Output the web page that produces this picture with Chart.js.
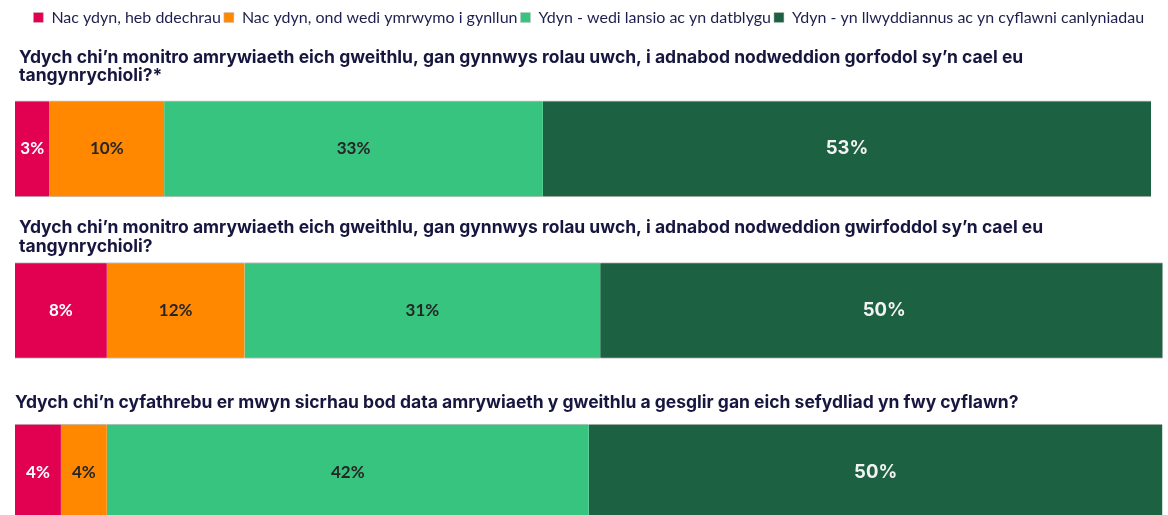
<!DOCTYPE html>
<html><head><meta charset="utf-8">
<script src="https://cdn.jsdelivr.net/npm/chart.js@4/dist/chart.umd.min.js"></script>
<style>html,body{margin:0;padding:0;background:#fff;overflow:hidden}
#wrap{position:relative;width:1168px;height:553px}</style></head>
<body><div id="wrap"><canvas id="c" width="1168" height="553"></canvas></div>
<script>
// ---- data ----
const questions = [
  ["Ydych chi’n monitro amrywiaeth eich gweithlu, gan gynnwys rolau uwch, i adnabod nodweddion gorfodol sy’n cael eu", "tangynrychioli?*"],
  ["Ydych chi’n monitro amrywiaeth eich gweithlu, gan gynnwys rolau uwch, i adnabod nodweddion gwirfoddol sy’n cael eu", "tangynrychioli?"],
  ["Ydych chi’n cyfathrebu er mwyn sicrhau bod data amrywiaeth y gweithlu a gesglir gan eich sefydliad yn fwy cyflawn?"]
];
const seriesNames = [
  "Nac ydyn, heb ddechrau",
  "Nac ydyn, ond wedi ymrwymo i gynllun",
  "Ydyn - wedi lansio ac yn datblygu",
  "Ydyn - yn llwyddiannus ac yn cyflawni canlyniadau"
];
const notStarted = [3, 8, 4];
const committed  = [10, 12, 4];
const launched   = [33, 31, 42];
const successful = [53, 49.5, 50];

// ---- styles ----
const colors = ["#E20050", "#FF8800", "#36C47F", "#1B6142"];
const labelColors = ["#ffffff", "#262626", "#262626", "#f2f2f2"];
const labelFonts = ["bold 17px Lato", "bold 17px Lato", "bold 17px Lato", "bold 18.5px Inter"];
const titleGaps = [25, 16, 21];
const titleX = [19, 19, 15];

const seriesValues = [notStarted, committed, launched, successful];

const legendHeight = {
  id: 'legendHeight',
  beforeInit(chart) {
    const fit = chart.legend.fit;
    chart.legend.fit = function () { fit.call(this); this.height = 61.5; };
  }
};

const titlesPlugin = {
  id: 'questionTitles',
  afterDraw(chart) {
    const ctx = chart.ctx, ys = chart.scales.y;
    const half = 48, lh = 18.5;
    ctx.save();
    ctx.font = "bold 17.5px Inter";
    ctx.fillStyle = "#16163f";
    ctx.textBaseline = "middle";
    ctx.textAlign = "left";
    questions.forEach((lines, j) => {
      const top = ys.getPixelForValue(j) - half;
      const lastY = top - titleGaps[j];
      lines.forEach((t, k) => {
        ctx.fillText(t, titleX[j], lastY - (lines.length - 1 - k) * lh);
      });
    });
    ctx.restore();
  }
};

const segLabels = {
  id: 'segLabels',
  afterDatasetsDraw(chart) {
    const ctx = chart.ctx;
    ctx.save();
    ctx.textAlign = "center";
    ctx.textBaseline = "middle";
    chart.data.datasets.forEach((ds, i) => {
      const meta = chart.getDatasetMeta(i);
      meta.data.forEach((bar, j) => {
        const v = ds.data[j];
        const cx = (bar.x + bar.base) / 2;
        ctx.font = labelFonts[i];
        ctx.fillStyle = labelColors[i];
        ctx.fillText(Math.round(v) + "%", cx, bar.y);
      });
    });
    ctx.restore();
  }
};

new Chart(document.getElementById('c'), {
  type: 'bar',
  data: {
    labels: questions.map(q => q.join(' ')),
    datasets: seriesNames.map((name, i) => ({
      label: name,
      data: seriesValues[i],
      backgroundColor: colors[i],
      borderColor: "#c4c4c4",
      borderWidth: {top: 1, bottom: 1, left: 0, right: 0},
      borderSkipped: false,
      barThickness: 96
    }))
  },
  options: {
    indexAxis: 'y',
    responsive: false,
    animation: false,
    layout: {padding: {left: 15, right: 5.5, top: 6.5, bottom: 0}},
    scales: {
      x: {stacked: true, min: 0, max: 100, display: false},
      y: {stacked: true, display: false}
    },
    plugins: {
      legend: {
        position: 'top',
        labels: {
          boxWidth: 10, boxHeight: 10, padding: 3,
          color: "#1f1f4f",
          font: {family: "Lato", size: 16}
        }
      },
      tooltip: {enabled: false}
    }
  },
  plugins: [legendHeight, titlesPlugin, segLabels]
});
</script>
</body></html>
